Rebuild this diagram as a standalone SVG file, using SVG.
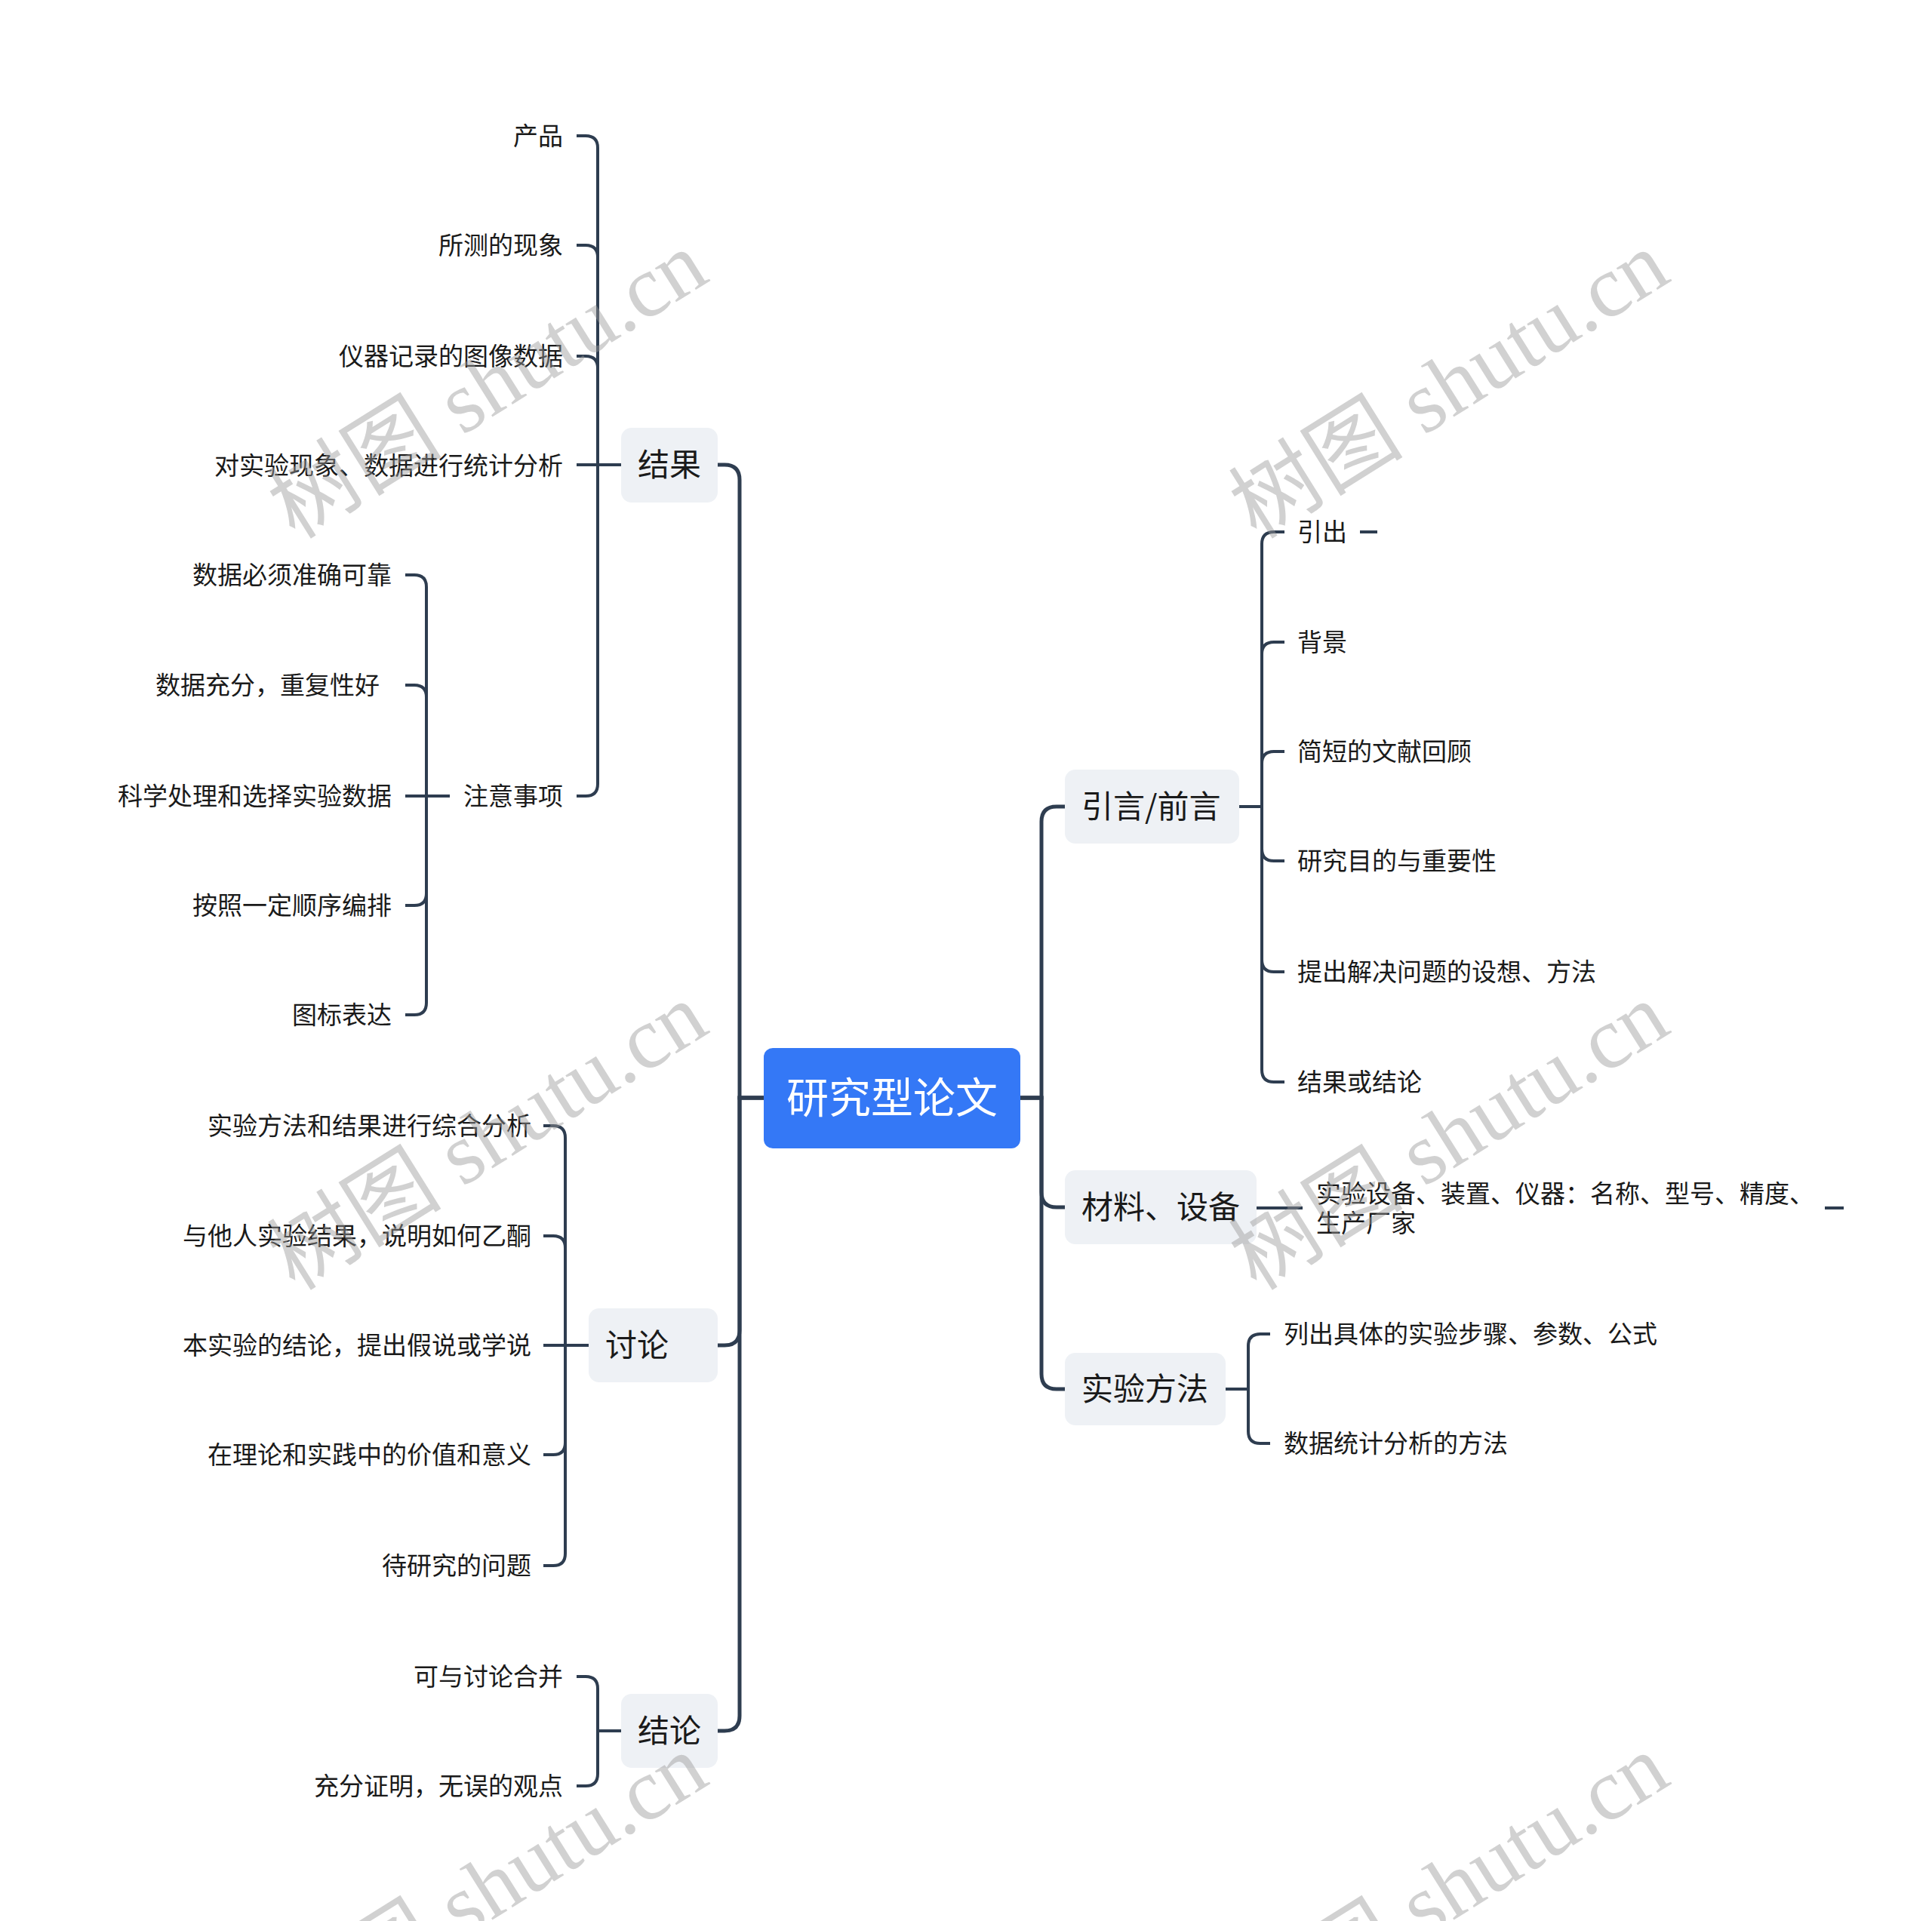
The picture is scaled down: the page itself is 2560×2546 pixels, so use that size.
<svg xmlns="http://www.w3.org/2000/svg" width="2560" height="2546" viewBox="0 0 2560 2546">
<style>
.bg{fill:#ffffff}
.main{fill:none;stroke:#2e3d50;stroke-width:5;stroke-linecap:butt}
.sub{fill:none;stroke:#2e3d50;stroke-width:4;stroke-linecap:butt}
.box{fill:#eef1f5}
.root{fill:#3478f6}
.t{font-family:"Noto Sans CJK SC","Noto Sans",sans-serif;fill:#1a1a1a}
.s{font-size:33px}
.m{font-size:42px}
.r{font-size:56px;fill:#ffffff}
.e{text-anchor:end}
.wm{font-family:"Liberation Serif","Noto Sans CJK SC",serif;font-size:116px;fill:#9a9a9a;fill-opacity:0.45}
</style>
<rect class="bg" x="0" y="0" width="2560" height="2546"/>
<g id="connectors">
<path class="main" d="M1012,1455 H980 V636 Q980,616 960,616 H951"/>
<path class="main" d="M1012,1455 H980 V1763 Q980,1783 960,1783 H951"/>
<path class="main" d="M1012,1455 H980 V2274 Q980,2294 960,2294 H951"/>
<path class="main" d="M1352,1455 H1380 V1089 Q1380,1069 1400,1069 H1411"/>
<path class="main" d="M1352,1455 H1380 V1580 Q1380,1600 1400,1600 H1411"/>
<path class="main" d="M1352,1455 H1380 V1821 Q1380,1841 1400,1841 H1411"/>
<path class="sub" d="M823,616 H792 V196 Q792,180 776,180 H764"/>
<path class="sub" d="M823,616 H792 V341 Q792,325 776,325 H764"/>
<path class="sub" d="M823,616 H792 V488 Q792,472 776,472 H764"/>
<path class="sub" d="M823,616 H764"/>
<path class="sub" d="M823,616 H792 V1039 Q792,1055 776,1055 H764"/>
<path class="sub" d="M596,1055 H565 V778 Q565,762 549,762 H537"/>
<path class="sub" d="M596,1055 H565 V924 Q565,908 549,908 H537"/>
<path class="sub" d="M596,1055 H537"/>
<path class="sub" d="M596,1055 H565 V1184 Q565,1200 549,1200 H537"/>
<path class="sub" d="M596,1055 H565 V1329 Q565,1345 549,1345 H537"/>
<path class="sub" d="M780,1783 H749 V1508 Q749,1492 733,1492 H720"/>
<path class="sub" d="M780,1783 H749 V1654 Q749,1638 733,1638 H720"/>
<path class="sub" d="M780,1783 H720"/>
<path class="sub" d="M780,1783 H749 V1912 Q749,1928 733,1928 H720"/>
<path class="sub" d="M780,1783 H749 V2059 Q749,2075 733,2075 H720"/>
<path class="sub" d="M823,2294 H792 V2238 Q792,2222 776,2222 H764"/>
<path class="sub" d="M823,2294 H792 V2351 Q792,2367 776,2367 H764"/>
<path class="sub" d="M1641,1069 H1672 V721 Q1672,705 1688,705 H1702"/>
<path class="sub" d="M1641,1069 H1672 V867 Q1672,851 1688,851 H1702"/>
<path class="sub" d="M1641,1069 H1672 V1012 Q1672,996 1688,996 H1702"/>
<path class="sub" d="M1641,1069 H1672 V1125 Q1672,1141 1688,1141 H1702"/>
<path class="sub" d="M1641,1069 H1672 V1272 Q1672,1288 1688,1288 H1702"/>
<path class="sub" d="M1641,1069 H1672 V1418 Q1672,1434 1688,1434 H1702"/>
<path class="sub" d="M1802,705 H1825"/>
<path class="sub" d="M1665,1601 H1726"/>
<path class="sub" d="M2418,1601 H2443"/>
<path class="sub" d="M1624,1841 H1654 V1784 Q1654,1768 1670,1768 H1683"/>
<path class="sub" d="M1624,1841 H1654 V1897 Q1654,1913 1670,1913 H1683"/>
</g>
<g id="root">
<rect class="root" x="1012" y="1389" width="340" height="133" rx="12"/>
<text class="t r" x="1182" y="1475" text-anchor="middle">研究型论文</text>
</g>
<g id="n-jieguo">
<rect class="box" x="823" y="567" width="128" height="99" rx="14"/>
<text class="t m" x="845" y="631">结果</text>
</g>
<g id="n-taolun">
<rect class="box" x="780" y="1734" width="171" height="98" rx="14"/>
<text class="t m" x="802" y="1798">讨论</text>
</g>
<g id="n-jielun">
<rect class="box" x="823" y="2245" width="128" height="98" rx="14"/>
<text class="t m" x="845" y="2309">结论</text>
</g>
<g id="n-yinyan">
<rect class="box" x="1411" y="1020" width="231" height="98" rx="14"/>
<text class="t m" x="1433" y="1084">引言/前言</text>
</g>
<g id="n-cailiao">
<rect class="box" x="1411" y="1551" width="254" height="98" rx="14"/>
<text class="t m" x="1433" y="1615">材料、设备</text>
</g>
<g id="n-fangfa">
<rect class="box" x="1411" y="1793" width="213" height="96" rx="14"/>
<text class="t m" x="1433" y="1856">实验方法</text>
</g>
<g id="n-jieguo-children">
<text class="t s e" x="746" y="192">产品</text>
<text class="t s e" x="746" y="337">所测的现象</text>
<text class="t s e" x="746" y="484">仪器记录的图像数据</text>
<text class="t s e" x="746" y="629">对实验现象、数据进行统计分析</text>
<text class="t s e" x="746" y="1067">注意事项</text>
</g>
<g id="n-zhuyi-children">
<text class="t s e" x="519" y="774">数据必须准确可靠</text>
<text class="t s e" x="503" y="920">数据充分，重复性好</text>
<text class="t s e" x="519" y="1067">科学处理和选择实验数据</text>
<text class="t s e" x="519" y="1212">按照一定顺序编排</text>
<text class="t s e" x="519" y="1357">图标表达</text>
</g>
<g id="n-taolun-children">
<text class="t s e" x="704" y="1504">实验方法和结果进行综合分析</text>
<text class="t s e" x="704" y="1650">与他人实验结果，说明如何乙酮</text>
<text class="t s e" x="704" y="1795">本实验的结论，提出假说或学说</text>
<text class="t s e" x="704" y="1940">在理论和实践中的价值和意义</text>
<text class="t s e" x="704" y="2087">待研究的问题</text>
</g>
<g id="n-jielun-children">
<text class="t s e" x="746" y="2234">可与讨论合并</text>
<text class="t s e" x="746" y="2379">充分证明，无误的观点</text>
</g>
<g id="n-yinyan-children">
<text class="t s" x="1719" y="717">引出</text>
<text class="t s" x="1719" y="863">背景</text>
<text class="t s" x="1719" y="1008">简短的文献回顾</text>
<text class="t s" x="1719" y="1153">研究目的与重要性</text>
<text class="t s" x="1719" y="1300">提出解决问题的设想、方法</text>
<text class="t s" x="1719" y="1446">结果或结论</text>
</g>
<g id="n-cailiao-children">
<text class="t s" x="1744" y="1594">实验设备、装置、仪器：名称、型号、精度、</text>
<text class="t s" x="1744" y="1633">生产厂家</text>
</g>
<g id="n-fangfa-children">
<text class="t s" x="1701" y="1780">列出具体的实验步骤、参数、公式</text>
<text class="t s" x="1701" y="1925">数据统计分析的方法</text>
</g>
<g id="watermarks">
<text class="wm" x="391" y="716" transform="rotate(-32 391 716)">树图 shutu.cn</text>
<text class="wm" x="1665" y="716" transform="rotate(-32 1665 716)">树图 shutu.cn</text>
<text class="wm" x="391" y="1712" transform="rotate(-32 391 1712)">树图 shutu.cn</text>
<text class="wm" x="1665" y="1712" transform="rotate(-32 1665 1712)">树图 shutu.cn</text>
<text class="wm" x="391" y="2708" transform="rotate(-32 391 2708)">树图 shutu.cn</text>
<text class="wm" x="1665" y="2708" transform="rotate(-32 1665 2708)">树图 shutu.cn</text>
</g>
</svg>
